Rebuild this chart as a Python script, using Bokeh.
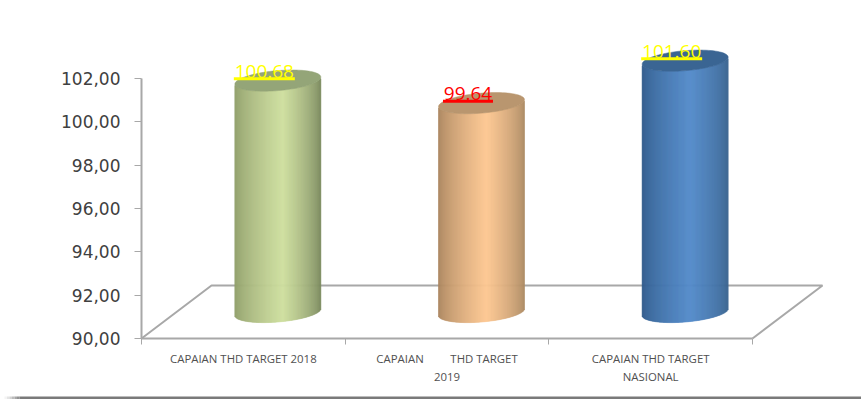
import numpy as np
from bokeh.plotting import figure
from bokeh.models import FixedTicker, Range1d
from bokeh.core.properties import value
from bokeh.embed import file_html
from bokeh.resources import INLINE

categories = ["CAPAIAN THD TARGET 2018", "CAPAIAN\u00a0\u00a0\u00a0\u00a0\u00a0\u00a0\u00a0\u00a0\u00a0THD TARGET\n2019", "CAPAIAN THD TARGET\nNASIONAL"]
values = [100.68, 99.64, 101.60]
labels = ["100.68", "99.64", "101.60"]
label_colors = ["#ffff00", "#ff0000", "#ffff00"]
y_ticks = [90, 92, 94, 96, 98, 100, 102]
y_tick_labels = ["90,00", "92,00", "94,00", "96,00", "98,00", "100,00", "102,00"]
edge_left = [(141, 156, 104), (165, 128, 90), (47, 90, 138)]
highlight = [(208, 224, 160), (253, 199, 145), (85, 140, 204)]
edge_right = [(120, 135, 92), (168, 134, 96), (58, 99, 142)]
top_colors = ["#94a578", "#b9966f", "#3a6593"]
band_fade = ["#f4f4f4", "#e4e4e4", "#d2d2d2", "#bcbcbc", "#a6a6a6", "#929292"]
band_color = "#7a7a7a"

W, H = 861, 399
LEFT, BOTTOM = 141, 61   # where the axes cross, from the left and bottom of the page
PX_X = 611 / 3           # pixels per category
PX_Y = 260 / 12          # pixels per value unit
Y0 = 90
DEPTH_X, DEPTH_Y = 70 / PX_X, 53 / PX_Y
RX, RY, TILT = 43 / PX_X, 10 / PX_Y, 3.5 / PX_Y
AXIS = "#a8a8a8"

p = figure(width=W, height=H, output_backend="svg", toolbar_location=None,
           x_range=Range1d(-LEFT / PX_X, (W - LEFT) / PX_X),
           y_range=Range1d(Y0 - BOTTOM / PX_Y, Y0 + (H - BOTTOM) / PX_Y),
           min_border=0)
p.outline_line_color = None
p.background_fill_color = "#ffffff"
p.border_fill_color = "#ffffff"
p.grid.visible = False

# y axis
ya = p.yaxis[0]
ya.fixed_location = 0
ya.ticker = FixedTicker(ticks=y_ticks)
ya.major_label_overrides = {t: s for t, s in zip(y_ticks, y_tick_labels)}
ya.bounds = (90, 102)
ya.axis_line_color = AXIS
ya.axis_line_width = 2
ya.major_tick_line_color = AXIS
ya.major_tick_in = 0
ya.major_tick_out = 7
ya.minor_tick_line_color = None
ya.major_label_standoff = 14
ya.major_label_text_font = "DejaVu Sans"
ya.major_label_text_font_size = "17px"
ya.major_label_text_color = "#404040"

# x axis
xa = p.xaxis[0]
xa.fixed_location = Y0
n = len(categories)
centres = [i + 0.5 for i in range(n)]
xa.ticker = FixedTicker(ticks=centres, minor_ticks=list(range(n + 1)))
xa.major_label_overrides = {c: s for c, s in zip(centres, categories)}
xa.bounds = (0, n)
xa.axis_line_color = AXIS
xa.axis_line_width = 2
xa.major_tick_line_color = None
xa.major_tick_in = 0
xa.major_tick_out = 0
xa.minor_tick_line_color = AXIS
xa.minor_tick_in = 0
xa.minor_tick_out = 6
xa.major_label_standoff = 6
xa.major_label_text_font = "Open Sans"
xa.major_label_text_font_size = "11.4px"
xa.major_label_text_color = "#505050"

# floor
p.line([0, DEPTH_X, n + DEPTH_X, n], [Y0, Y0 + DEPTH_Y, Y0 + DEPTH_Y, Y0], line_color=AXIS, line_width=2)

# cylinders
N = 86
for i, v in enumerate(values):
    cx = i + 0.5 + DEPTH_X / 2 - 0.5 / PX_X
    base = Y0 + DEPTH_Y / 2
    top = v + DEPTH_Y / 2
    edges = np.linspace(-1, 1, N + 1)
    mid = (edges[:-1] + edges[1:]) / 2
    front = TILT * mid - RY * np.sqrt(1 - mid ** 2)
    w = np.where(mid < 0.12, (mid + 1) / 1.12, (1 - mid) / 0.88) ** 0.7
    cols = []
    for k in range(N):
        other = edge_left[i] if mid[k] < 0.12 else edge_right[i]
        c = [round(o + (h - o) * w[k]) for o, h in zip(other, highlight[i])]
        cols.append("#%02x%02x%02x" % tuple(c))
    p.quad(left=cx + edges[:-1] * RX, right=cx + edges[1:] * RX,
           bottom=base + front, top=top + front,
           fill_color=cols, line_color=cols, line_width=0.6)
    th = np.linspace(0, 2 * np.pi, 90)
    p.patch(cx + RX * np.cos(th), top + TILT * np.cos(th) + RY * np.sin(th),
            fill_color=top_colors[i], line_color=top_colors[i], line_width=0.5)
    # data label with underline
    lx = cx - 13.5 / PX_X
    half = (30.5 if len(labels[i]) == 6 else 25) / PX_X
    ly = top + 4.5 / PX_Y
    p.text([lx], [ly], text=[labels[i]], text_color=label_colors[i], text_align="center",
           text_baseline="alphabetic", text_font=value("Open Sans"), text_font_size="19px", y_offset=-5)
    p.segment([lx - half], [ly - 2.6 / PX_Y], [lx + half], [ly - 2.6 / PX_Y],
              line_color=label_colors[i], line_width=3)

# bottom band of the picture, fading in at the left
band_top = Y0 - (BOTTOM - 3) / PX_Y
band_bottom = Y0 - BOTTOM / PX_Y
step = 2.5 / PX_X
x0 = (4 - LEFT) / PX_X
fade_l = [x0 + step * k for k in range(len(band_fade))]
p.quad(left=fade_l, right=[x + step for x in fade_l], bottom=band_bottom, top=band_top,
       fill_color=band_fade, line_color=None)
p.quad(left=[fade_l[-1] + step], right=[(W - LEFT) / PX_X], bottom=band_bottom, top=band_top,
       fill_color=band_color, line_color=None)

open("out.html", "w").write(file_html(p, INLINE))
